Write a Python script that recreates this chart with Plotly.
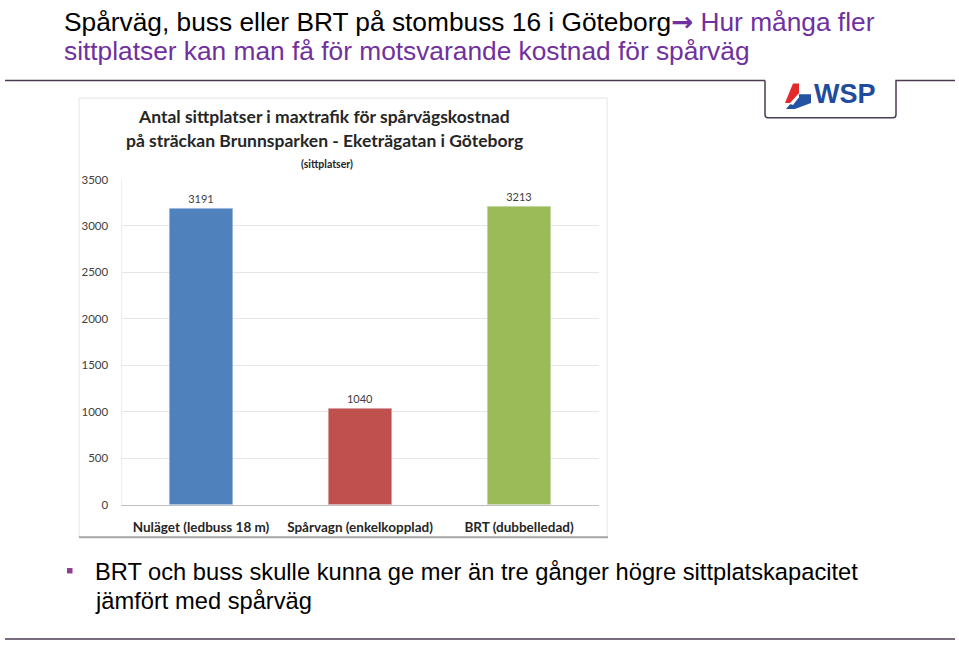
import plotly.graph_objects as go

categories = ["Nuläget (ledbuss 18 m)", "Spårvagn (enkelkopplad)", "BRT (dubbelledad)"]
seats = [3191, 1040, 3213]
bar_colors = ["#4F81BD", "#C0504D", "#9BBB59"]
y_ticks = [0, 500, 1000, 1500, 2000, 2500, 3000, 3500]

W, H = 959, 650
PURPLE = "#7030A0"
LINE = "#4B3B50"
CAL = "Lato, Carlito, Open Sans, sans-serif"
ARIAL = "Liberation Sans, Arial, sans-serif"

def px(x):
    return x / W

def py(y):
    return 1 - y / H

fig = go.Figure()
fig.add_trace(go.Bar(
    x=categories, y=seats, marker_color=bar_colors, width=0.4,
    text=[str(v) for v in seats], textposition="outside",
    textfont=dict(family=CAL, size=11, color="#404040"),
    cliponaxis=False, showlegend=False,
))

fig.update_layout(
    width=W, height=H, margin=dict(l=0, r=0, t=0, b=0),
    paper_bgcolor="white", plot_bgcolor="white",
    bargap=0.6,
    xaxis=dict(domain=[px(121.5), px(598.5)], showgrid=False,
               showline=True, linecolor="#BFBFBF", linewidth=1,
               ticks="", ticklabelstandoff=10,
               tickfont=dict(family=CAL, size=13.5, color="#262626", weight="bold")),
    yaxis=dict(domain=[py(508), py(176)], range=[0, 3500],
               tickvals=y_ticks, ticktext=[str(v) for v in y_ticks],
               showgrid=True, gridcolor="#E6E6E6", gridwidth=1,
               zeroline=False, showline=True, linecolor="#EDEDED",
               ticks="", ticklabelstandoff=10,
               tickfont=dict(family=CAL, size=11.5, color="#404040")),
)

shapes = []
# chart picture frame
shapes.append(dict(type="rect", xref="paper", yref="paper",
                   x0=px(79), x1=px(607), y0=py(541), y1=py(93),
                   line=dict(color="#E3E3E3", width=1), layer="below"))
shapes.append(dict(type="line", xref="paper", yref="paper",
                   x0=px(79), x1=px(608), y0=py(541), y1=py(541),
                   line=dict(color="#A6A6A6", width=2)))
# slide lines
shapes.append(dict(type="line", xref="paper", yref="paper",
                   x0=px(5), x1=px(765), y0=py(75), y1=py(75),
                   line=dict(color=LINE, width=1.5)))
shapes.append(dict(type="path", xref="paper", yref="paper",
                   path=f"M {px(765)},{py(75)} L {px(765)},{py(110)} Q {px(765)},{py(113)} {px(768)},{py(113)} "
                        f"L {px(893)},{py(113)} Q {px(896)},{py(113)} {px(896)},{py(110)} L {px(896)},{py(75)} L {px(955)},{py(75)}",
                   line=dict(color=LINE, width=1.5)))
shapes.append(dict(type="line", xref="paper", yref="paper",
                   x0=px(5), x1=px(955), y0=py(645), y1=py(645),
                   line=dict(color=LINE, width=1.5)))
# bullet square
shapes.append(dict(type="rect", xref="paper", yref="paper",
                   x0=px(67), x1=px(72.5), y0=py(578), y1=py(572.5),
                   fillcolor="#8E3F91", line=dict(width=0)))
# WSP logo icon
shapes.append(dict(type="path", xref="paper", yref="paper",
                   path=f"M {px(785)},{py(98)} L {px(793)},{py(78)} L {px(799)},{py(78)} L {px(799)},{py(88)} L {px(790)},{py(98)} Z",
                   fillcolor="#E32A2A", line=dict(width=0)))
shapes.append(dict(type="path", xref="paper", yref="paper",
                   path=f"M {px(786)},{py(104)} L {px(799)},{py(89)} L {px(811)},{py(89)} L {px(811)},{py(98)} L {px(795)},{py(104)} Z",
                   fillcolor="#2453A4", line=dict(width=0)))
shapes.append(dict(type="path", xref="paper", yref="paper",
                   path=f"M {px(790)},{py(99)} L {px(799)},{py(88)} L {px(799)},{py(92)} L {px(793)},{py(100)} Z",
                   fillcolor="#FFFFFF", line=dict(width=0)))
fig.update_layout(shapes=shapes)

ann = []
def txt(x, y, text, font, xanchor="left"):
    ann.append(dict(xref="paper", yref="paper", x=px(x), y=py(y), xanchor=xanchor, yanchor="middle",
                    align="left", showarrow=False, text=text, font=font))

TF = dict(family=ARIAL, size=26.3, color="#000000")
txt(62, 15, "Spårväg, buss eller BRT på stombuss 16 i Göteborg"
            f"<span style='color:{PURPLE};font-family:DejaVu Sans;font-weight:bold'>→</span>"
            f"<span style='color:{PURPLE}'> Hur många fler</span>", TF)
txt(62, 45, f"<span style='color:{PURPLE}'>sittplatser kan man få för motsvarande kostnad för spårväg</span>", TF)

CF = dict(family=CAL, size=17.5, color="#262626")
txt(324, 112, "<b>Antal sittplatser i maxtrafik för spårvägskostnad</b>", CF, "center")
txt(324, 136, "<b>på sträckan Brunnsparken - Eketrägatan i Göteborg</b>", CF, "center")
txt(327, 160, "<b>(sittplatser)</b>", dict(family=CAL, size=10.5, color="#262626"), "center")

BF = dict(family=ARIAL, size=23.7, color="#000000")
txt(93, 577, "BRT och buss skulle kunna ge mer än tre gånger högre sittplatskapacitet", BF)
txt(93, 606, "jämfört med spårväg", BF)

txt(812, 89, "<b>WSP</b>", dict(family=ARIAL, size=27, color="#1F4C9E"))
fig.update_layout(annotations=ann)

fig.write_html("out.html")
